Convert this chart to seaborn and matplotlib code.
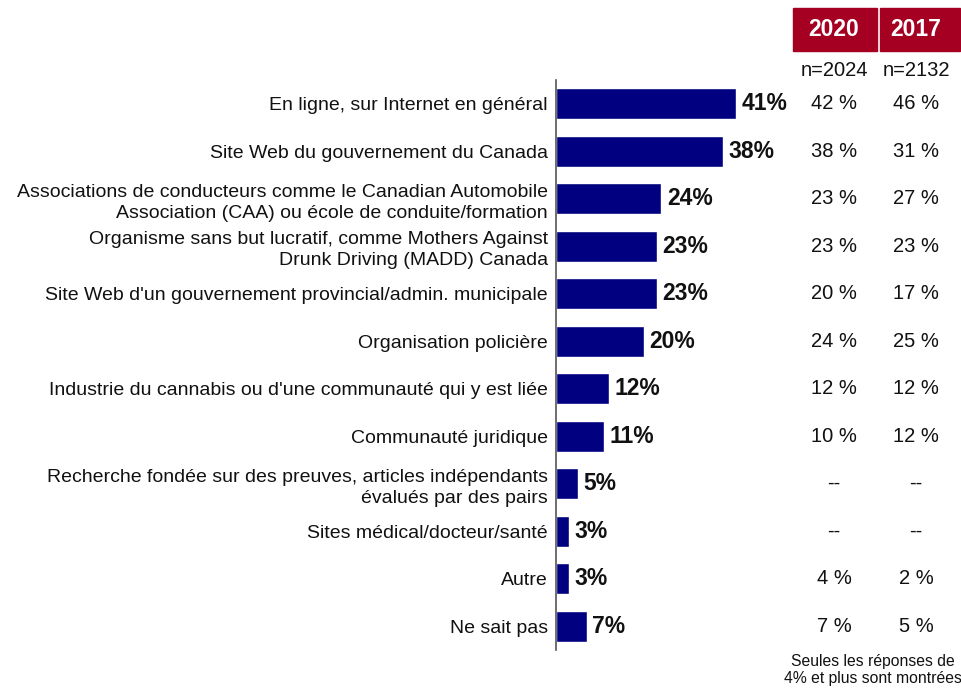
import matplotlib
matplotlib.use("Agg")
import matplotlib.pyplot as plt
import matplotlib.transforms as mtransforms
from matplotlib.patches import Rectangle
import seaborn as sns
import pandas as pd

categories = [
    "En ligne, sur Internet en général",
    "Site Web du gouvernement du Canada",
    "Associations de conducteurs comme le Canadian Automobile\nAssociation (CAA) ou école de conduite/formation",
    "Organisme sans but lucratif, comme Mothers Against\nDrunk Driving (MADD) Canada",
    "Site Web d'un gouvernement provincial/admin. municipale",
    "Organisation policière",
    "Industrie du cannabis ou d'une communauté qui y est liée",
    "Communauté juridique",
    "Recherche fondée sur des preuves, articles indépendants\névalués par des pairs",
    "Sites médical/docteur/santé",
    "Autre",
    "Ne sait pas",
]
current = [41, 38, 24, 23, 23, 20, 12, 11, 5, 3, 3, 7]
col_2020 = ["42 %", "38 %", "23 %", "23 %", "20 %", "24 %", "12 %", "10 %", "--", "--", "4 %", "7 %"]
col_2017 = ["46 %", "31 %", "27 %", "23 %", "17 %", "25 %", "12 %", "12 %", "--", "--", "2 %", "5 %"]
years = ["2020", "2017"]
samples = ["n=2024", "n=2132"]

df = pd.DataFrame({"cat": categories, "pct": current})

sns.set_theme(style="white")
plt.rcParams["font.family"] = ["Liberation Sans", "DejaVu Sans"]

W, H = 961, 688
fig = plt.figure(figsize=(W / 100, H / 100), dpi=100)
ax = fig.add_axes([556 / W, 1 - 650 / H, (800 - 556) / W, (650 - 80) / H])

sns.barplot(data=df, x="pct", y="cat", color="#000080", saturation=1,
            width=0.65, ax=ax, orient="h")
ax.set_xlim(0, (800 - 556) / 4.39)
ax.set_xlabel("")
ax.set_ylabel("")
ax.set_xticks([])
for s in ["top", "right", "bottom"]:
    ax.spines[s].set_visible(False)
ax.spines["left"].set_color("#555555")
ax.spines["left"].set_linewidth(1.2)
ax.tick_params(axis="y", length=0, pad=6)
for lab in ax.get_yticklabels():
    lab.set_fontsize(14)
    lab.set_color("#111111")
    lab.set_linespacing(1.3)

# labels at bar ends
for cont in ax.containers:
    ax.bar_label(cont, labels=[f"{v}%" for v in current], padding=4,
                 fontsize=16.5, fontweight="bold", color="#111111")

# comparison columns
trans = mtransforms.blended_transform_factory(fig.transFigure, ax.transData)
col_x = [834 / W, 916 / W]
for i in range(len(categories)):
    ax.text(col_x[0], i, col_2020[i], transform=trans, ha="center", va="center",
            fontsize=14.5, color="#111111")
    ax.text(col_x[1], i, col_2017[i], transform=trans, ha="center", va="center",
            fontsize=14.5, color="#111111")

# headers
boxes = [(793, 877), (880, 960)]
for (x0, x1), yr, n, cx in zip(boxes, years, samples, col_x):
    fig.patches.append(Rectangle((x0 / W, 1 - 51 / H), (x1 - x0) / W, 43 / H,
                                 transform=fig.transFigure, color="#A50021"))
    fig.text(cx, 1 - 30 / H, yr, ha="center", va="center", fontsize=16.5,
             fontweight="bold", color="white")
    fig.text(cx, 1 - 70 / H, n, ha="center", va="center", fontsize=14.5,
             color="#111111")

fig.text(873 / W, 1 - 670 / H, "Seules les réponses de\n4% et plus sont montrées",
         ha="center", va="center", fontsize=11.3, color="#111111", linespacing=1.15)

fig.savefig("out.png", dpi=100)
